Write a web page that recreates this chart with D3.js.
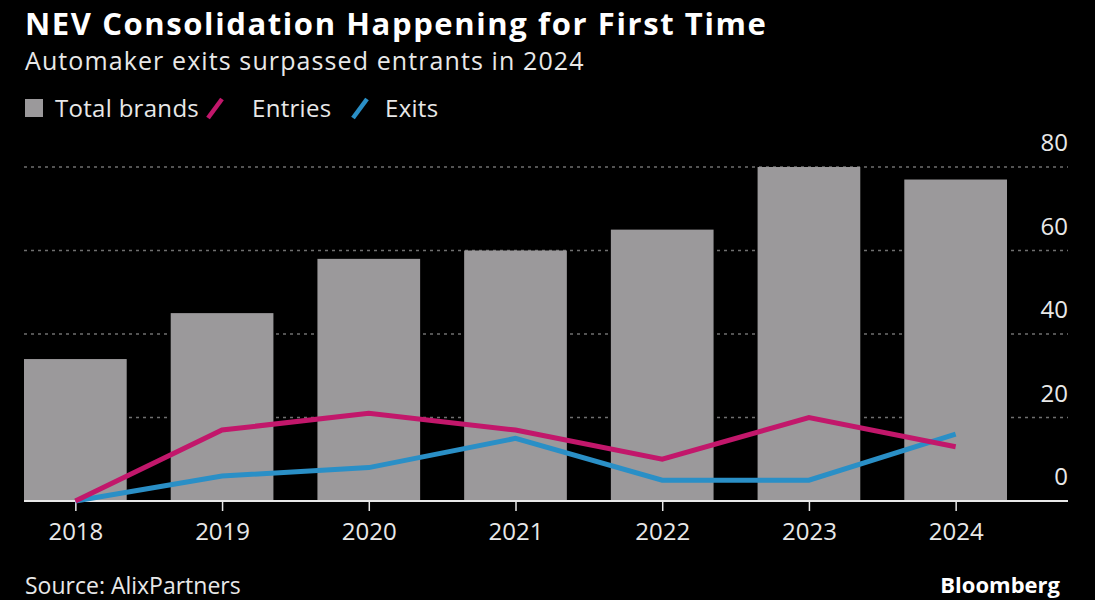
<!DOCTYPE html>
<html>
<head>
<meta charset="utf-8">
<script src="https://cdn.jsdelivr.net/npm/d3@7"></script>
<style>
  html, body { margin: 0; padding: 0; background: #000; }
  svg { display: block; }
  text { font-family: "Open Sans", "Noto Sans", sans-serif; fill: #e8e8e8; }
</style>
</head>
<body>
<div id="chart"></div>
<script>
const years = ["2018", "2019", "2020", "2021", "2022", "2023", "2024"];
const totalBrands = [34, 45, 58, 60, 65, 80, 77];
const entries = [0, 17, 21, 17, 10, 20, 13];
const exits = [0, 6, 8, 15, 5, 5, 16];
const yTicks = [0, 20, 40, 60, 80];

const width = 1095;
const height = 600;
const plot = { left: 24, right: 1068, barsRight: 1007, top: 167, bottom: 501 };

const colors = { bar: "#9b999b", entries: "#c2176b", exits: "#2a8fc6", grid: "#6f6f6f" };

const svg = d3
  .select("#chart")
  .append("svg")
  .attr("width", width)
  .attr("height", height);

svg.append("rect").attr("width", width).attr("height", height).attr("fill", "#000");

// titles
svg.append("text")
  .attr("x", 25).attr("y", 35)
  .attr("font-size", 31).attr("font-weight", 700)
  .attr("letter-spacing", 1.6)
  .style("fill", "#fff")
  .text("NEV Consolidation Happening for First Time");

svg.append("text")
  .attr("x", 25).attr("y", 70)
  .attr("font-size", 25)
  .attr("letter-spacing", 1.1)
  .text("Automaker exits surpassed entrants in 2024");

// legend
const legend = svg.append("g").attr("transform", "translate(25, 108)");
legend.append("rect").attr("x", 0).attr("y", -9).attr("width", 18).attr("height", 18).attr("fill", colors.bar);
legend.append("text").attr("x", 30).attr("y", 9).attr("font-size", 24).attr("letter-spacing", 0.3).text("Total brands");
legend.append("line").attr("x1", 183).attr("y1", 10).attr("x2", 197).attr("y2", -9)
  .attr("stroke", colors.entries).attr("stroke-width", 4.5);
legend.append("text").attr("x", 227).attr("y", 9).attr("font-size", 24).attr("letter-spacing", 0.3).text("Entries");
legend.append("line").attr("x1", 328).attr("y1", 10).attr("x2", 342).attr("y2", -9)
  .attr("stroke", colors.exits).attr("stroke-width", 4.5);
legend.append("text").attr("x", 360).attr("y", 9).attr("font-size", 24).attr("letter-spacing", 0.3).text("Exits");

// scales
const x = d3.scaleBand()
  .domain(years)
  .range([plot.left, plot.barsRight])
  .paddingInner(0.3)
  .paddingOuter(0);

const y = d3.scaleLinear()
  .domain([0, 80])
  .range([plot.bottom, plot.top]);

const cx = d => x(d) + x.bandwidth() / 2;

// grid lines
svg.append("g")
  .selectAll("line")
  .data(yTicks.filter(t => t > 0))
  .join("line")
  .attr("x1", plot.left)
  .attr("x2", plot.right)
  .attr("y1", d => y(d))
  .attr("y2", d => y(d))
  .attr("stroke", colors.grid)
  .attr("stroke-width", 1.5)
  .attr("stroke-dasharray", "3,4");

// y tick labels on the right, sitting above each line
svg.append("g")
  .selectAll("text")
  .data(yTicks)
  .join("text")
  .attr("x", plot.right)
  .attr("y", d => y(d) - 16)
  .attr("text-anchor", "end")
  .attr("font-size", 24)
  .text(d => d);

// bars
svg.append("g")
  .selectAll("rect")
  .data(years)
  .join("rect")
  .attr("x", d => x(d))
  .attr("width", x.bandwidth())
  .attr("y", (d, i) => y(totalBrands[i]))
  .attr("height", (d, i) => y(0) - y(totalBrands[i]))
  .attr("fill", colors.bar);

// x axis
const xAxis = svg.append("g")
  .attr("transform", `translate(0, ${plot.bottom})`)
  .call(d3.axisBottom(d3.scalePoint().domain(years).range([cx(years[0]), cx(years[years.length - 1])]))
    .tickSize(10)
    .tickPadding(12));
xAxis.select(".domain").remove();
xAxis.selectAll(".tick line").attr("stroke", "#e8e8e8").attr("stroke-width", 1.5);
xAxis.selectAll(".tick text")
  .attr("font-size", 24)
  .attr("font-family", "Open Sans, Noto Sans, sans-serif")
  .style("fill", "#e8e8e8");

svg.append("line")
  .attr("x1", plot.left)
  .attr("x2", plot.right)
  .attr("y1", plot.bottom)
  .attr("y2", plot.bottom)
  .attr("stroke", "#e8e8e8")
  .attr("stroke-width", 2);

// lines
const line = d3.line()
  .x((d, i) => cx(years[i]))
  .y(d => y(d));

svg.append("path")
  .datum(exits)
  .attr("d", line)
  .attr("fill", "none")
  .attr("stroke", colors.exits)
  .attr("stroke-width", 5);

svg.append("path")
  .datum(entries)
  .attr("d", line)
  .attr("fill", "none")
  .attr("stroke", colors.entries)
  .attr("stroke-width", 5);

// footer
svg.append("text")
  .attr("x", 25).attr("y", 594)
  .attr("font-size", 23)
  .text("Source: AlixPartners");

svg.append("text")
  .attr("x", 1060).attr("y", 593)
  .attr("text-anchor", "end")
  .attr("font-size", 22).attr("font-weight", 700)
  .style("fill", "#fff")
  .text("Bloomberg");
</script>
</body>
</html>
